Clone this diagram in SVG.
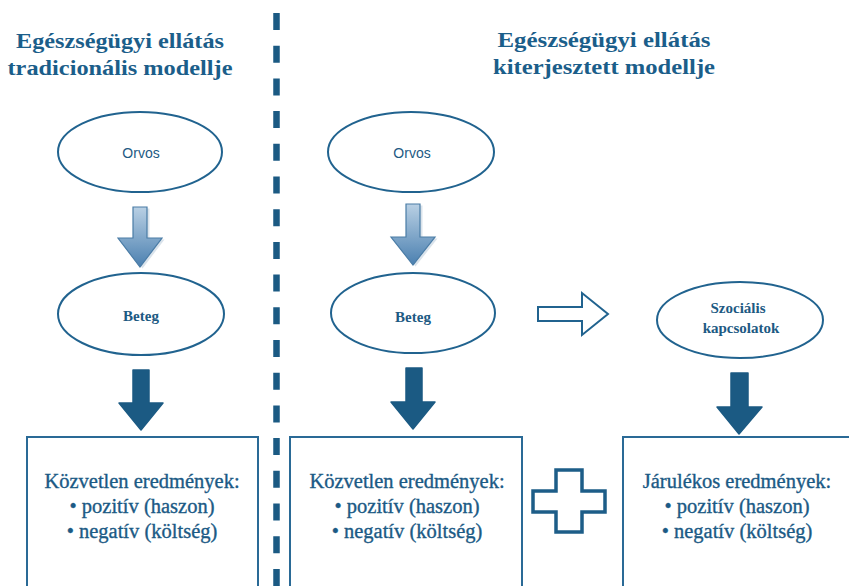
<svg xmlns="http://www.w3.org/2000/svg" width="849" height="586" viewBox="0 0 849 586">
<style>
.title{font-weight:bold;font-size:22px;fill:#1b5e8a;text-anchor:middle}
.ell{fill:#fff;stroke:#21638f;stroke-width:2}
.lbl-sans{font-size:14px;fill:#1d5a83;text-anchor:middle}
.lbl-serif{font-weight:bold;font-size:15px;fill:#1d5a83;text-anchor:middle}
.box{fill:#fff;stroke:#2a6a96;stroke-width:2}
.btxt{font-size:20.5px;fill:#1b5a85;stroke:#1b5a85;stroke-width:0.35;text-anchor:middle}
.dark{fill:#1b5a83;stroke:#1b5a83;stroke-width:1.5;stroke-linejoin:round}
.grad{fill:url(#g);stroke:#4a7ca6;stroke-width:1.2}
</style>
<defs>
<linearGradient id="g" x1="0" y1="0" x2="0" y2="1">
<stop offset="0" stop-color="#b9d0e4"/>
<stop offset="1" stop-color="#4b80b0"/>
</linearGradient>
</defs>
<rect width="849" height="586" fill="#fff"/>
<g id="connectors">
<line x1="276.5" y1="13" x2="276.5" y2="600" stroke="#1b5a83" stroke-width="6.5" stroke-dasharray="17 15.7"/>
<path d="M134,207 H148 V238 H163 L141,267 L119,238 H134 Z" transform="translate(1.5,1.5)" opacity="0.25" fill="#6b8fb0"/>
<path class="grad" d="M133,207 H147 V238 H162 L140,267 L118,238 H133 Z"/>
<path d="M407,204 H421 V237 H436 L414,265 L392,237 H407 Z" transform="translate(1.5,1.5)" opacity="0.25" fill="#6b8fb0"/>
<path class="grad" d="M406,204 H420 V237 H435 L413,265 L391,237 H406 Z"/>
<path class="dark" d="M133,370 H149 V403 H163 L141,430 L119,403 H133 Z"/>
<path class="dark" d="M406,368 H422 V402 H435 L413,429 L391,402 H406 Z"/>
<path class="dark" d="M731,373 H748 V407 H762 L739,434 L717,407 H731 Z"/>
<path d="M538,307 H582 V293 L608,314 L582,335 V321 H538 Z" fill="#fff" stroke="#21638f" stroke-width="2" stroke-linejoin="miter"/>
<path d="M556,470 H582 V491 H605 V512 H582 V532 H556 V512 H533 V491 H556 Z" fill="#fff" stroke="#1d5d88" stroke-width="3.5"/>
</g>
<g id="title-left">
<text class="title" font-family="Liberation Serif, serif" x="120" y="48" textLength="208" lengthAdjust="spacingAndGlyphs">Egészségügyi ellátás</text>
<text class="title" font-family="Liberation Serif, serif" x="120" y="75" textLength="225" lengthAdjust="spacingAndGlyphs">tradicionális modellje</text>
</g>
<g id="title-right">
<text class="title" font-family="Liberation Serif, serif" x="604" y="47" textLength="213" lengthAdjust="spacingAndGlyphs">Egészségügyi ellátás</text>
<text class="title" font-family="Liberation Serif, serif" x="604" y="74" textLength="222" lengthAdjust="spacingAndGlyphs">kiterjesztett modellje</text>
</g>
<g id="orvos-left">
<ellipse class="ell" cx="140" cy="152" rx="82" ry="40"/>
<text class="lbl-sans" font-family="Liberation Sans, sans-serif" x="141" y="158">Orvos</text>
</g>
<g id="beteg-left">
<ellipse class="ell" cx="141" cy="314" rx="83" ry="41"/>
<text class="lbl-serif" font-family="Liberation Serif, serif" x="141" y="321">Beteg</text>
</g>
<g id="orvos-right">
<ellipse class="ell" cx="411" cy="152" rx="83" ry="40"/>
<text class="lbl-sans" font-family="Liberation Sans, sans-serif" x="412" y="158">Orvos</text>
</g>
<g id="beteg-right">
<ellipse class="ell" cx="413" cy="313" rx="82" ry="40"/>
<text class="lbl-serif" font-family="Liberation Serif, serif" x="413" y="322">Beteg</text>
</g>
<g id="szocialis">
<ellipse class="ell" cx="740" cy="320" rx="83" ry="38"/>
<text class="lbl-serif" font-family="Liberation Serif, serif" x="738" y="313">Szociális</text>
<text class="lbl-serif" font-family="Liberation Serif, serif" x="741" y="333">kapcsolatok</text>
</g>
<g id="box-left">
<rect class="box" x="27" y="437" width="231" height="170"/>
<text class="btxt" font-family="Liberation Serif, serif" x="142" y="488">Közvetlen eredmények:</text>
<text class="btxt" font-family="Liberation Serif, serif" x="142" y="513">• pozitív (haszon)</text>
<text class="btxt" font-family="Liberation Serif, serif" x="142" y="538">• negatív (költség)</text>
</g>
<g id="box-middle">
<rect class="box" x="290" y="437" width="232" height="170"/>
<text class="btxt" font-family="Liberation Serif, serif" x="407" y="488">Közvetlen eredmények:</text>
<text class="btxt" font-family="Liberation Serif, serif" x="407" y="513">• pozitív (haszon)</text>
<text class="btxt" font-family="Liberation Serif, serif" x="407" y="538">• negatív (költség)</text>
</g>
<g id="box-right">
<rect class="box" x="623" y="437" width="232" height="170"/>
<text class="btxt" font-family="Liberation Serif, serif" x="737" y="488">Járulékos eredmények:</text>
<text class="btxt" font-family="Liberation Serif, serif" x="737" y="513">• pozitív (haszon)</text>
<text class="btxt" font-family="Liberation Serif, serif" x="737" y="538">• negatív (költség)</text>
</g>
</svg>
